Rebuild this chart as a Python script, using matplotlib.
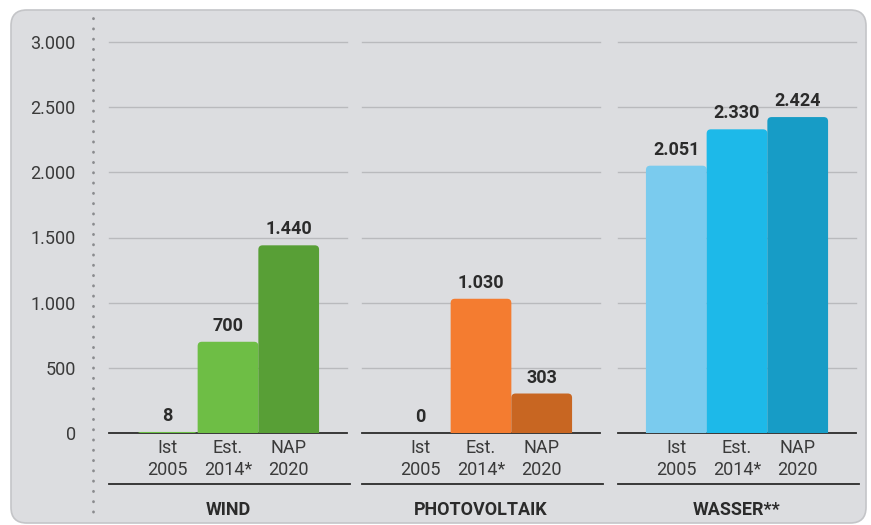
import matplotlib
matplotlib.use("Agg")
import matplotlib.pyplot as plt
from matplotlib.patches import FancyBboxPatch
from matplotlib.lines import Line2D
from matplotlib.ticker import FuncFormatter

plt.rcParams["font.family"] = ["Roboto", "DejaVu Sans"]

GRUPPEN = ["WIND", "PHOTOVOLTAIK", "WASSER**"]
KATEGORIEN = ["Ist\n2005", "Est.\n2014*", "NAP\n2020"]
WIND = [8, 700, 1440]
PV = [0, 1030, 303]
WASSER = [2051, 2330, 2424]
WERTE = [WIND, PV, WASSER]
FARBEN = [["#6bbf45", "#6ebe45", "#589f36"],
          ["#f47c30", "#f47c30", "#c86622"],
          ["#7acbee", "#1db9e9", "#179cc6"]]
Y_TICKS = [0, 500, 1000, 1500, 2000, 2500, 3000]

W, H = 871, 525
fig = plt.figure(figsize=(W / 100, H / 100), dpi=100)
fig.patch.set_facecolor("white")

# grauer Hintergrund mit runden Ecken
bg = FancyBboxPatch((11 / W, 1 - 523 / H), 855 / W, 513 / H,
                    boxstyle="round,pad=0,rounding_size=0.018",
                    transform=fig.transFigure, facecolor="#dcdde0",
                    edgecolor="#c4c5c8", lw=1.2, zorder=0,
                    mutation_aspect=W / H)
fig.add_artist(bg)

# gepunktete Linie links
fig.add_artist(Line2D([93 / W, 93 / W], [1 - 18 / H, 1 - 520 / H],
                      color="#8a8b8e", lw=2, linestyle=(0, (0.1, 3.6)),
                      dash_capstyle="round"))

lefts = [109, 362, 618]
pw = 238
ybot, ytop = 433, 42
ymax = 3000 + (ytop - 29) * 3000 / (ybot - ytop)
fmt = FuncFormatter(lambda v, p: f"{int(v):,}".replace(",", "."))

for i, (name, vals, cols) in enumerate(zip(GRUPPEN, WERTE, FARBEN)):
    ax = fig.add_axes([lefts[i] / W, 1 - ybot / H, pw / W, (ybot - 29) / H])
    ax.set_facecolor("none")
    ax.set_xlim(-0.96, 2.96)
    ax.set_ylim(0, ymax)
    for s in ax.spines.values():
        s.set_visible(False)
    for t in Y_TICKS[1:]:
        ax.axhline(t, color="#b9babd", lw=1.0, zorder=1, clip_on=False)
    ax.axhline(0, color="#2b2b2b", lw=1.3, zorder=2, clip_on=False)
    x = list(range(len(vals)))
    bars = ax.bar(x, vals, width=1.0, color=cols)
    asp = (ymax / (ybot - 29)) / (3.92 / pw)
    for b, c in zip(bars, cols):
        b.set_visible(False)
        # Kasten unter die Nulllinie verlaengert, damit nur oben gerundet sichtbar ist
        p = FancyBboxPatch((b.get_x(), -200), b.get_width(), b.get_height() + 200,
                           boxstyle="round,pad=0,rounding_size=0.07",
                           mutation_aspect=asp, facecolor=c, edgecolor="none",
                           zorder=3)
        ax.add_patch(p)
    for xi, v in zip(x, vals):
        ax.annotate(f"{v:,}".replace(",", "."), (xi, v), xytext=(0, 5),
                    textcoords="offset points", ha="center", va="bottom",
                    fontsize=13, fontweight="bold", color="#2b2b2b")
    ax.set_xticks(x)
    ax.set_xticklabels(KATEGORIEN, fontsize=13, color="#3a3a3a", linespacing=1.35)
    ax.tick_params(axis="x", length=0, pad=4)
    if i == 0:
        ax.set_yticks(Y_TICKS)
        ax.yaxis.set_major_formatter(fmt)
        ax.tick_params(axis="y", length=0, labelsize=13, labelcolor="#3a3a3a", pad=24)
    else:
        ax.set_yticks([])
    # Trennlinie unter den Kategorien
    fig.add_artist(Line2D([lefts[i] / W, (lefts[i] + pw + 3) / W],
                          [1 - 484 / H, 1 - 484 / H], color="#2b2b2b", lw=1.3))
    fig.text((lefts[i] + pw / 2) / W, 1 - 510 / H, name, ha="center", va="center",
             fontsize=13, fontweight="bold", color="#2b2b2b")

fig.savefig("out.png", dpi=100)
